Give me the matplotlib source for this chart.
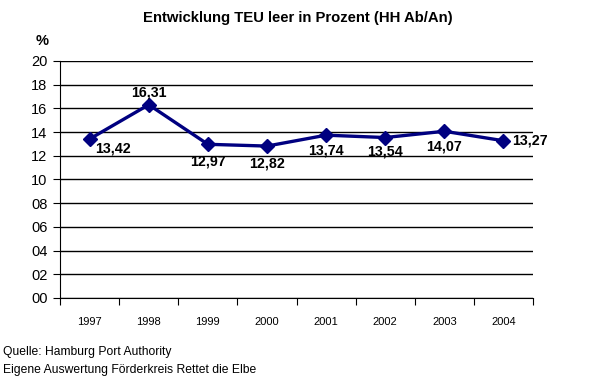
import matplotlib
matplotlib.use("Agg")
import matplotlib.pyplot as plt
from matplotlib.ticker import FixedLocator, FuncFormatter

years = ["1997", "1998", "1999", "2000", "2001", "2002", "2003", "2004"]
values = [13.42, 16.31, 12.97, 12.82, 13.74, 13.54, 14.07, 13.27]
labels = ["13,42", "16,31", "12,97", "12,82", "13,74", "13,54", "14,07", "13,27"]
yticks = [0, 2, 4, 6, 8, 10, 12, 14, 16, 18, 20]

plt.rcParams['font.family'] = ['Liberation Sans', 'DejaVu Sans']

fig = plt.figure(figsize=(5.89, 3.86), dpi=100)
ax = fig.add_axes([0.102, 0.228, 0.803, 0.614])
x = list(range(len(years)))
ax.plot(x, values, color='#000080', lw=2.4, marker='D', ms=7.5, zorder=3)

ax.set_xlim(-0.5, len(years) - 0.5)
ax.set_ylim(0, 20)
ax.yaxis.set_major_locator(FixedLocator(yticks))
ax.yaxis.set_major_formatter(FuncFormatter(lambda v, p: f"{int(v):02d}"))
ax.grid(axis='y', color='black', lw=1)
ax.set_axisbelow(True)
ax.xaxis.set_major_locator(FixedLocator([i - 0.5 for i in range(len(years) + 1)]))
ax.xaxis.set_major_formatter(FuncFormatter(lambda v, p: ""))
ax.xaxis.set_minor_locator(FixedLocator(x))
ax.set_xticklabels(years, minor=True)
ax.tick_params(axis='x', which='minor', length=0, pad=14, labelsize=8)
ax.tick_params(axis='x', which='major', length=5, direction='out', color='black')
ax.tick_params(axis='y', length=5, direction='out', labelsize=10.5, pad=4)
for s in ['top', 'right']:
    ax.spines[s].set_visible(False)
for s in ['left', 'bottom']:
    ax.spines[s].set_color('black')

offsets = [(4, -7), (0, 8.5), (0, -12.5), (0, -12.5), (0, -11), (0, -10), (0, -11), (6, 0.5)]
has = ['left', 'center', 'center', 'center', 'center', 'center', 'center', 'left']
for i, (v, lab) in enumerate(zip(values, labels)):
    dx, dy = offsets[i]
    ax.annotate(lab, (i, v), xytext=(dx, dy), textcoords='offset points',
                ha=has[i], va='center', fontsize=10.3, fontweight='bold')

fig.text(0.506, 0.953, "Entwicklung TEU leer in Prozent (HH Ab/An)", ha='center', va='center',
         fontsize=10.7, fontweight='bold')
fig.text(0.060, 0.895, "%", ha='left', va='center', fontsize=10.5, fontweight='bold')
fig.text(0.005, 0.088, "Quelle: Hamburg Port Authority", ha='left', va='center', fontsize=8.7)
fig.text(0.005, 0.041, "Eigene Auswertung Förderkreis Rettet die Elbe", ha='left', va='center', fontsize=8.7)

fig.savefig("out.png", dpi=100)
